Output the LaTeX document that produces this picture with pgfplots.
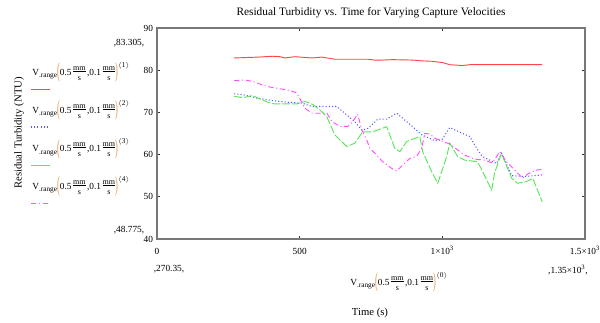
\documentclass[border=0pt]{standalone}
\usepackage{fontspec}
\setmainfont{Liberation Serif}
\usepackage{graphicx}
\usepackage{pgfplots}
\pgfplotsset{compat=1.18}
\definecolor{cred}{RGB}{255,70,70}
\definecolor{cblue}{RGB}{90,90,255}
\definecolor{cgreen}{RGB}{90,230,90}
\definecolor{cmag}{RGB}{255,80,255}
\definecolor{pcol}{RGB}{225,150,80}
\definecolor{axgray}{RGB}{120,120,120}
\newcommand{\fs}{\fontsize{6}{6}\selectfont}
\newcommand{\mms}{$\vcenter{\hbox{\begin{tabular}{@{}c@{}}{\fs mm}\\[-2.2pt]\hline\noalign{\vskip1pt}{\fs s}\end{tabular}}}$}
\newcommand{\lp}{\raisebox{-0.6ex}{\color{pcol}\scalebox{0.9}[2.3]{(}}}
\newcommand{\rp}{\raisebox{-0.6ex}{\color{pcol}\scalebox{0.9}[2.3]{)}}}
\newcommand{\vexpr}[1]{V\raisebox{-0.6ex}{\fontsize{5.5}{6}\selectfont .range}\lp0.5\,\mms\,,0.1\,\mms\rp\raisebox{1.9ex}{\fontsize{5.5}{6}\selectfont $\langle$#1$\rangle$}}

\pgfplotstableread{
t v
270.35 82.9
354 83.1
406 83.305
431 83.2
448 82.9
483 83.2
543 82.9
578 83.1
623 82.6
739 82.6
763 82.4
791 82.4
826 82.5
896 82.4
931 82.2
966 82.1
1001 81.8
1026 81.3
1071 81.1
1096 81.3
1350 81.3
}\redtab

\pgfplotstableread{
t v
270.35 74.4
301 74.2
350 73.4
403 72.8
459 72.4
508 72.2
543 71.4
630 71.4
658 69.8
693 67.8
718 65.8
739 66.2
774 68.4
805 68.4
840 69.8
868 68.2
896 66.6
928 64.7
973 63.3
998 63.5
1026 66.4
1068 65.1
1096 64.3
1124 61.1
1141 59.5
1190 57.9
1208 60.3
1243 55.0
1289 54.8
1350 55.2
}\bluetab

\pgfplotstableread{
t v
270.35 73.8
301 73.5
336 74.0
354 73.4
389 72.4
413 72.0
459 72.0
490 72.0
518 72.6
546 71.9
571 70.6
595 69.0
623 64.7
665 61.9
693 62.7
721 65.4
756 65.4
805 66.6
833 61.5
851 60.7
875 63.1
921 64.3
931 60.7
963 55.9
984 53.2
1015 59.5
1026 62.7
1054 59.5
1078 58.7
1124 58.3
1173 51.6
1183 55.6
1207 60.3
1243 54.4
1264 53.2
1295 53.6
1317 54.4
1350 48.775
}\greentab

\pgfplotstableread{
t v
270.35 77.5
308 77.7
343 77.2
368 76.5
396 76.0
431 75.6
466 75.2
490 74.6
504 72.8
518 71.0
543 69.8
578 69.8
595 69.9
613 67.8
641 66.7
669 66.7
686 67.8
703 69.6
718 65.8
735 63.5
746 61.5
770 59.9
791 58.3
823 56.7
840 56.1
861 57.5
886 59.1
910 59.6
928 61.5
938 65.0
956 64.9
973 63.9
1026 62.5
1078 59.9
1113 58.9
1148 58.7
1176 58.0
1201 60.7
1225 58.3
1243 57.1
1264 55.6
1282 54.4
1299 55.4
1327 56.3
1350 56.5
}\magtab

\begin{document}
\begin{tikzpicture}
\useasboundingbox (0,0) rectangle (450pt,242.25pt);
\begin{axis}[
  at={(117.75pt,63pt)}, anchor=south west,
  scale only axis, width=321pt, height=158.25pt,
  xmin=0, xmax=1500, ymin=40, ymax=90,
  xtick={0,500,1000,1500},
  xticklabels={0,500,{1×10\textsuperscript{3}},{1.5×10\textsuperscript{3}}},
  ytick={40,50,60,70,80,90},
  tick align=inside, major tick length=2.5pt,
  axis line style={axgray, line width=0.9pt},
  tick style={black!80, line width=0.5pt},
  ticklabel style={font=\fontsize{7}{8}\selectfont},
  /pgf/number format/assume math mode=true,
  xticklabel style={anchor=base, yshift=-12pt},
  yticklabel style={xshift=0.5pt},
]
\addplot[cred, line width=0.7pt] table[x=t,y=v] {\redtab};
\addplot[cblue, line width=0.8pt, dash pattern=on 0.8pt off 1.6pt] table[x=t,y=v] {\bluetab};
\addplot[cgreen, line width=0.7pt, dash pattern=on 6pt off 1.5pt] table[x=t,y=v] {\greentab};
\addplot[cmag, line width=0.7pt, dash pattern=on 4pt off 2pt on 0.8pt off 2pt] table[x=t,y=v] {\magtab};
\end{axis}
\begin{scope}[x=0.75pt, y=-0.75pt, shift={(0pt,242.25pt)}]
\node[font=\fontsize{8.5}{10}\selectfont] at (371,13) {Residual Turbidity vs. Time for Varying Capture Velocities};
\node[rotate=90, font=\fontsize{8}{9}\selectfont] at (19,133) {Residual Turbidity (NTU)};
\node[font=\fontsize{8}{9}\selectfont] at (370,313) {Time (s)};
\node[anchor=west, inner sep=0pt, font=\fontsize{7}{8.4}\selectfont] at (350,283) {\vexpr{0}};
\foreach \i/\yy in {1/73, 2/111, 3/149.5, 4/187}{
  \node[anchor=west, inner sep=0pt, font=\fontsize{7}{8.4}\selectfont] at (32,\yy) {\vexpr{\i}};
}
\draw[cred, line width=0.7pt] (31,89) -- (50,89);
\draw[cblue, line width=0.8pt, dash pattern=on 0.8pt off 1.6pt] (31,127) -- (50,127);
\draw[cgreen, line width=0.7pt] (31,165.5) -- (50,165.5);
\draw[cmag, line width=0.7pt, dash pattern=on 4pt off 2pt on 0.8pt off 2pt] (31,203) -- (50,203);
\node[font=\fontsize{7}{8}\selectfont] at (129,43) {,83.305,};
\node[font=\fontsize{7}{8}\selectfont] at (129,230) {,48.775,};
\node[font=\fontsize{7}{8}\selectfont] at (169,269) {,270.35,};
\node[font=\fontsize{7}{8}\selectfont] at (568,270) {,1.35×10\textsuperscript{3},};
\end{scope}
\end{tikzpicture}
\end{document}
